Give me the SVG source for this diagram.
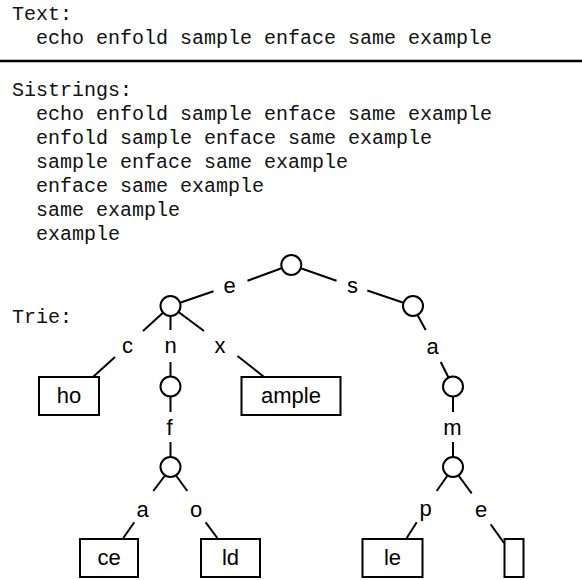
<svg xmlns="http://www.w3.org/2000/svg" width="582" height="580" viewBox="0 0 582 580">
  <style>
    .mono { font-family: "Liberation Mono", "Courier New", monospace; font-size: 20px; fill: #111; }
    .lbl { font-family: "Liberation Sans", Arial, sans-serif; font-size: 22px; fill: #000; text-anchor: middle; }
    .node { fill: #fff; stroke: #000; stroke-width: 2; }
    .edge { stroke: #000; stroke-width: 2; fill: none; }
  </style>
  <rect width="582" height="580" fill="#fff"/>

  <!-- header text and sistring listing -->
  <g id="text-block">
    <text class="mono" x="12" y="20">Text:</text>
    <text class="mono" x="36" y="44">echo enfold sample enface same example</text>
    <line x1="0" y1="61" x2="582" y2="61" stroke="#000" stroke-width="2.5"/>
    <text class="mono" x="12" y="96">Sistrings:</text>
    <text class="mono" x="36" y="120">echo enfold sample enface same example</text>
    <text class="mono" x="36" y="144">enfold sample enface same example</text>
    <text class="mono" x="36" y="168">sample enface same example</text>
    <text class="mono" x="36" y="192">enface same example</text>
    <text class="mono" x="36" y="216">same example</text>
    <text class="mono" x="36" y="240">example</text>
    <text class="mono" x="12" y="323">Trie:</text>
  </g>

  <!-- trie edges, each split around its character label -->
  <g id="edges" class="edge">
    <line x1="180" y1="302.8" x2="213.5" y2="291.3"/>
    <line x1="247.5" y1="280.8" x2="281.5" y2="268.3"/>
    <line x1="300.8" y1="268.3" x2="336.5" y2="280.7"/>
    <line x1="367.3" y1="290.5" x2="403.5" y2="302.8"/>

    <line x1="163" y1="312.8" x2="143" y2="331"/>
    <line x1="115" y1="357" x2="93.5" y2="376.5"/>
    <line x1="170.5" y1="316" x2="170.5" y2="330"/>
    <line x1="170.5" y1="362" x2="170.5" y2="376.5"/>
    <line x1="178.5" y1="312" x2="204" y2="331"/>
    <line x1="237.5" y1="356" x2="263.5" y2="376.5"/>

    <line x1="417.5" y1="315" x2="425.7" y2="330"/>
    <line x1="440.7" y1="362" x2="448.5" y2="377.5"/>

    <line x1="170.5" y1="396.5" x2="170.5" y2="412"/>
    <line x1="170.5" y1="442" x2="170.5" y2="457"/>
    <line x1="453" y1="396.5" x2="453" y2="412"/>
    <line x1="453" y1="442" x2="453" y2="457"/>

    <line x1="165" y1="475.5" x2="153.3" y2="491"/>
    <line x1="134.3" y1="522.3" x2="123.3" y2="538"/>
    <line x1="176" y1="475.5" x2="187.3" y2="491"/>
    <line x1="205.7" y1="522.3" x2="217.3" y2="538"/>

    <line x1="447.5" y1="475.5" x2="436.7" y2="491"/>
    <line x1="416.7" y1="522.3" x2="406.7" y2="538"/>
    <line x1="458.5" y1="475.5" x2="471.7" y2="493.3"/>
    <line x1="490.7" y1="524.3" x2="504" y2="543"/>
  </g>

  <!-- edge labels -->
  <g id="edge-labels">
    <text class="lbl" x="229.5" y="293">e</text>
    <text class="lbl" x="352.5" y="293">s</text>
    <text class="lbl" x="127.5" y="353">c</text>
    <text class="lbl" x="170.5" y="353">n</text>
    <text class="lbl" x="220" y="353">x</text>
    <text class="lbl" x="432.5" y="354">a</text>
    <text class="lbl" x="169.5" y="435">f</text>
    <text class="lbl" x="452.5" y="435">m</text>
    <text class="lbl" x="142.5" y="517">a</text>
    <text class="lbl" x="196" y="517">o</text>
    <text class="lbl" x="425.5" y="516">p</text>
    <text class="lbl" x="481" y="517">e</text>
  </g>

  <!-- internal nodes -->
  <g id="n-root"><circle class="node" cx="291.3" cy="265" r="10"/></g>
  <g id="n-e"><circle class="node" cx="170.5" cy="306" r="10"/></g>
  <g id="n-s"><circle class="node" cx="413" cy="306" r="10"/></g>
  <g id="n-en"><circle class="node" cx="170.5" cy="386.5" r="10"/></g>
  <g id="n-sa"><circle class="node" cx="453" cy="386.5" r="10"/></g>
  <g id="n-enf"><circle class="node" cx="170.5" cy="467" r="10"/></g>
  <g id="n-sam"><circle class="node" cx="453" cy="467" r="10"/></g>

  <!-- leaves -->
  <g id="leaf-ho">
    <rect class="node" x="39" y="377" width="60" height="38"/>
    <text class="lbl" x="69" y="403">ho</text>
  </g>
  <g id="leaf-ample">
    <rect class="node" x="241.5" y="377" width="99" height="38"/>
    <text class="lbl" x="291" y="403">ample</text>
  </g>
  <g id="leaf-ce">
    <rect class="node" x="80" y="539" width="58" height="38"/>
    <text class="lbl" x="109" y="565">ce</text>
  </g>
  <g id="leaf-ld">
    <rect class="node" x="201" y="539" width="59" height="38"/>
    <text class="lbl" x="230.5" y="565">ld</text>
  </g>
  <g id="leaf-le">
    <rect class="node" x="362.5" y="539" width="60" height="38"/>
    <text class="lbl" x="392.5" y="565">le</text>
  </g>
  <g id="leaf-empty">
    <rect class="node" x="504.5" y="539" width="19" height="38"/>
  </g>
</svg>
